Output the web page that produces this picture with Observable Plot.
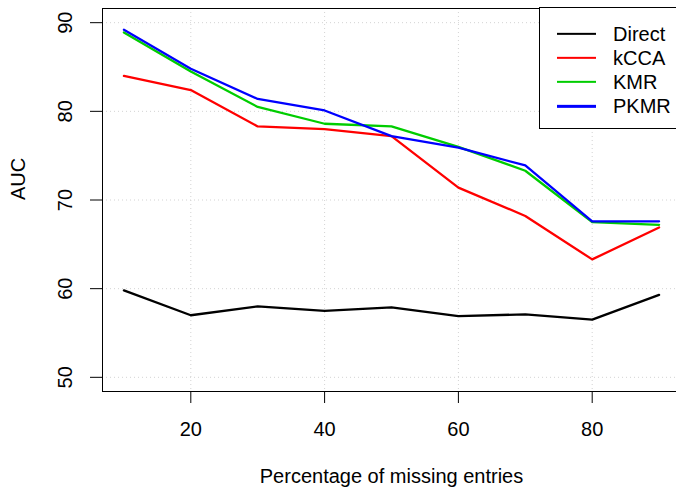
<!DOCTYPE html>
<html>
<head>
<meta charset="utf-8">
<script src="https://cdn.jsdelivr.net/npm/d3@7"></script>
<script src="https://cdn.jsdelivr.net/npm/@observablehq/plot@0.6"></script>
<style>
  html, body { margin: 0; padding: 0; background: white; }
  #wrap { position: relative; width: 676px; height: 488px; overflow: hidden; font-family: "Liberation Sans", Arial, sans-serif; }
  #wrap svg { max-width: none !important; width: 680px; height: 488px; display: block; }
  #legend { position: absolute; left: 539px; top: 7px; width: 200px; height: 122px; border: 1px solid black; box-sizing: border-box; background: white; }
  .row { position: absolute; left: 0; height: 0; }
  .swatch { position: absolute; left: 17px; width: 39px; height: 2.3px; transform: translateY(-50%); }
  .lab { position: absolute; left: 73px; font-size: 20px; line-height: 20px; transform: translateY(-50%); white-space: nowrap; color: black; }
</style>
</head>
<body>
<div id="wrap"></div>
<script>
// Data
const pct = [10, 20, 30, 40, 50, 60, 70, 80, 90];
const direct = [59.8, 57.0, 58.0, 57.5, 57.9, 56.9, 57.1, 56.5, 59.3];
const kcca   = [84.0, 82.4, 78.3, 78.0, 77.2, 71.4, 68.2, 63.3, 66.9];
const kmr    = [88.9, 84.5, 80.5, 78.6, 78.3, 76.0, 73.3, 67.5, 67.2];
const pkmr   = [89.2, 84.8, 81.4, 80.1, 77.2, 75.9, 73.9, 67.6, 67.6];
const seriesNames = ["Direct", "kCCA", "KMR", "PKMR"];
const seriesColors = ["#000000", "#FF0000", "#00CD00", "#0000FF"];
const xTicks = [20, 40, 60, 80];
const yTicks = [50, 60, 70, 80, 90];
const xLabel = "Percentage of missing entries";
const yLabel = "AUC";

const seriesValues = [direct, kcca, kmr, pkmr];
const rows = [];
seriesNames.forEach((name, i) => {
  pct.forEach((p, j) => rows.push({series: name, x: p, y: seriesValues[i][j]}));
});

const font = "Liberation Sans, Arial, sans-serif";
const chart = Plot.plot({
  width: 680,
  height: 488,
  marginLeft: 102,
  marginRight: 0,
  marginTop: 8,
  marginBottom: 97,
  style: {fontFamily: font, fontSize: "20px", color: "black", background: "white", maxWidth: "none"},
  x: {domain: [6.8, 93.2]},
  y: {domain: [48.4, 91.6]},
  color: {domain: seriesNames, range: seriesColors},
  marks: [
    Plot.gridX(xTicks, {stroke: "#d3d3d3", strokeOpacity: 1, strokeDasharray: "1,3", strokeWidth: 1}),
    Plot.gridY(yTicks, {stroke: "#d3d3d3", strokeOpacity: 1, strokeDasharray: "1,3", strokeWidth: 1}),
    Plot.axisX({ticks: xTicks, tickSize: 12, tickPadding: 18, fontSize: 20, label: null, stroke: "black"}),
    Plot.axisY({ticks: yTicks, tickSize: 12, tickFormat: () => "", label: null, stroke: "black"}),
    Plot.text(yTicks, {y: d => d, text: d => String(d), frameAnchor: "left", dx: -37, rotate: -90, fontSize: 20, lineAnchor: "middle", textAnchor: "middle", fill: "black"}),
    Plot.text([xLabel], {frameAnchor: "bottom", dy: 85, text: d => d, fontSize: 20, lineAnchor: "middle", fill: "black"}),
    Plot.text([yLabel], {frameAnchor: "left", dx: -83.5, text: d => d, rotate: -90, fontSize: 20, lineAnchor: "middle", fill: "black"}),
    Plot.line(rows, {x: "x", y: "y", z: "series", stroke: "series", strokeWidth: 2.3}),
    Plot.frame({stroke: "black", strokeWidth: 1})
  ]
});

const wrap = document.getElementById("wrap");
wrap.appendChild(chart);

// Legend (top-right, like R's legend box)
const legend = d3.select(wrap).append("div").attr("id", "legend");
seriesNames.forEach((name, i) => {
  const r = legend.append("div").attr("class", "row").style("top", (25.7 + 24.2 * i) + "px");
  r.append("div").attr("class", "swatch").style("background", seriesColors[i]);
  r.append("div").attr("class", "lab").text(name);
});
</script>
</body>
</html>
